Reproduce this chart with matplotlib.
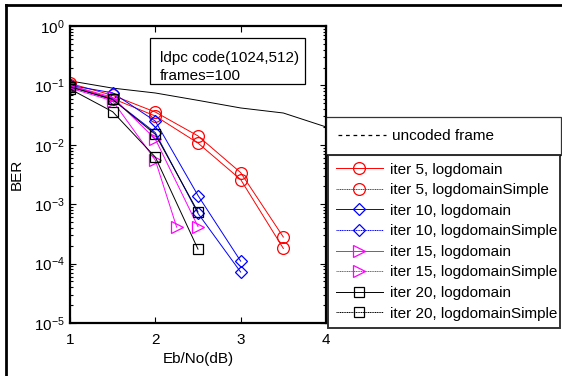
import matplotlib
matplotlib.use("Agg")
import matplotlib.pyplot as plt
from matplotlib.lines import Line2D
from matplotlib.patches import Rectangle

plt.rcParams["font.family"] = ["Liberation Sans", "DejaVu Sans"]
plt.rcParams["mathtext.fontset"] = "custom"
plt.rcParams["mathtext.rm"] = "Liberation Sans"
plt.rcParams["mathtext.it"] = "Liberation Sans"

# data
snr_uncoded = [1, 1.5, 2, 2.5, 3, 3.5, 4]
ber_uncoded = [0.119, 0.090, 0.0745, 0.056, 0.0417, 0.0343, 0.0200]

x_iter5 = [1, 1.5, 2, 2.5, 3, 3.5]
iter5_log = [0.100, 0.060, 0.0305, 0.0107, 0.0026, 1.8e-4]
iter5_simple = [0.108, 0.068, 0.0356, 0.0141, 0.0034, 2.8e-4]

x_iter10 = [1, 1.5, 2, 2.5, 3]
iter10_log = [0.095, 0.058, 0.016, 7.0e-4, 7.2e-5]
iter10_simple = [0.100, 0.075, 0.025, 1.4e-3, 1.1e-4]

x_iter15_log = [1, 1.5, 2, 2.25]
iter15_log = [0.090, 0.055, 0.0055, 4.1e-4]
x_iter15_simple = [1, 1.5, 2, 2.5]
iter15_simple = [0.100, 0.063, 0.0125, 4.2e-4]

x_iter20 = [1, 1.5, 2, 2.5]
iter20_log = [0.087, 0.036, 0.0062, 1.75e-4]
iter20_simple = [0.095, 0.058, 0.015, 7.4e-4]

W, H = 562, 376
FS = 11
fig = plt.figure(figsize=(W / 100, H / 100), dpi=100)

def fx(px):
    return px / W

def fy(py):
    return 1 - py / H

ax = fig.add_axes([fx(70), fy(323), fx(326) - fx(70), fy(26) - fy(323)])

lw = 0.7
ax.plot(snr_uncoded, ber_uncoded, color="k", lw=lw)

MAG = "#ff00ff"
curves = [
    (x_iter5, iter5_log, "r", "o", 8.5, "iter 5, logdomain"),
    (x_iter5, iter5_simple, "r", "o", 8.5, "iter 5, logdomainSimple"),
    (x_iter10, iter10_log, "b", "D", 6.5, "iter 10, logdomain"),
    (x_iter10, iter10_simple, "b", "D", 6.5, "iter 10, logdomainSimple"),
    (x_iter15_log, iter15_log, MAG, ">", 8.5, "iter 15, logdomain"),
    (x_iter15_simple, iter15_simple, MAG, ">", 8.5, "iter 15, logdomainSimple"),
    (x_iter20, iter20_log, "k", "s", 7.5, "iter 20, logdomain"),
    (x_iter20, iter20_simple, "k", "s", 7.5, "iter 20, logdomainSimple"),
]
handles = []
for i, (xs, ys, c, m, ms, lab) in enumerate(curves):
    ax.plot(xs, ys, color=c, marker=m, ls="-", lw=lw, ms=ms,
            mfc="none", mec=c, mew=0.9)
    # legend handle: "Simple" variants drawn with a fine dotted line
    ls = "-" if i % 2 == 0 else (0, (1.2, 0.6))
    handles.append(Line2D([], [], color=c, marker=m, ls=ls, lw=lw, ms=ms,
                          mfc="none", mec=c, mew=0.9, label=lab))

ax.set_yscale("log")
ax.set_xlim(1, 4)
ax.set_ylim(1e-5, 1)
ax.set_xticks([1, 2, 3, 4])
ax.set_yticks([1e-5, 1e-4, 1e-3, 1e-2, 1e-1, 1])
ax.tick_params(which="both", direction="in", top=True, right=True,
               labelsize=FS, width=0.8)
ax.tick_params(which="major", length=4)
ax.tick_params(which="minor", length=2)
ax.tick_params(axis="x", pad=7)
ax.tick_params(axis="y", pad=4)
for s in ax.spines.values():
    s.set_linewidth(1.6)
ax.set_xlabel("Eb/No(dB)", fontsize=FS, labelpad=4)
ax.set_ylabel("BER", fontsize=FS, labelpad=7)

# info box
fig.patches.append(Rectangle((fx(150), fy(84)), fx(305) - fx(150), fy(38) - fy(84),
                             transform=fig.transFigure, fill=False,
                             edgecolor="k", lw=0.9))
fig.text(fx(160), fy(58), "ldpc code(1024,512)", fontsize=FS, va="center")
fig.text(fx(160), fy(76), "frames=100", fontsize=FS, va="center")

leg_kw = dict(loc="upper left", bbox_transform=fig.transFigure, mode="expand",
              fontsize=FS, frameon=True, fancybox=False, borderaxespad=0,
              handlelength=3.1, handletextpad=0.45)

uncoded_handle = Line2D([], [], color="k", ls=(0, (3, 3)), lw=0.9)
leg1 = fig.legend([uncoded_handle], ["uncoded frame"],
                  bbox_to_anchor=(fx(326), fy(155), fx(561) - fx(326), fy(117) - fy(155)),
                  borderpad=0.8, **leg_kw)
leg1.get_frame().set_edgecolor("k")
leg1.get_frame().set_linewidth(0.9)

leg2 = fig.legend(handles, [h.get_label() for h in handles],
                  bbox_to_anchor=(fx(328), fy(322), fx(560) - fx(328), fy(155) - fy(322)),
                  labelspacing=0.43, borderpad=0.5, **leg_kw)
leg2.get_frame().set_edgecolor("k")
leg2.get_frame().set_linewidth(1.4)

# outer frame of the screenshot
fig.add_artist(Line2D([fx(6), fx(562)], [fy(5), fy(5)], color="k", lw=2,
                      transform=fig.transFigure))
fig.add_artist(Line2D([fx(6), fx(6)], [fy(5), fy(376)], color="k", lw=2,
                      transform=fig.transFigure))

fig.savefig("out.png", dpi=100)
